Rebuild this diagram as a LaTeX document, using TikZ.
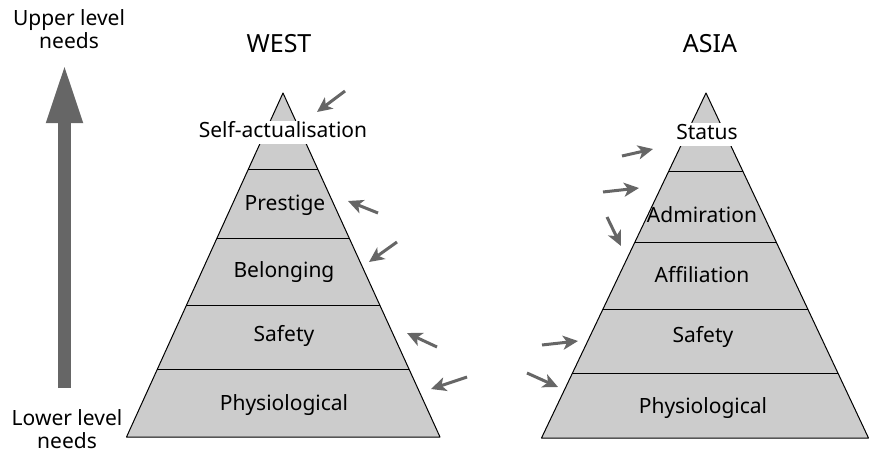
\documentclass[tikz,border=0pt]{standalone}
\usepackage{fontspec}
\setmainfont{Noto Sans}
\usepackage{tikz}
\usetikzlibrary{calc}
\usetikzlibrary{arrows.meta}
\definecolor{layergray}{HTML}{CCCCCC}
\definecolor{arrowgray}{HTML}{666666}
\newcommand{\pusharrow}[4]{\draw[arrowgray, line width=3pt, -{Stealth[length=15pt,width=14pt,inset=4pt]}] ( #1 , #2 ) -- ( #3 , #4 );}
\newcommand{\tierline}[2]{\draw[line width=1pt] ($(#1top)!#2!(#1left)$) -- ($(#1top)!#2!(#1right)$);}

\begin{document}
\begin{tikzpicture}[x=1pt, y=-1pt,
    needlabel/.style={font=\fontsize{21}{25}\selectfont, text height=15pt, text depth=4pt, inner sep=2pt},
    titlelabel/.style={font=\fontsize{25}{29}\selectfont},
    sidelabel/.style={font=\fontsize{21}{23}\selectfont, align=center, inner sep=0pt}]
    \useasboundingbox (0,0) rectangle (870,453);
    % big arrow
    \coordinate (lowend) at (64.5,388);
    \coordinate (highend) at (64.5,63);
    \draw[arrowgray, line width=13pt, -{Triangle[length=60pt,width=33pt]}] (lowend) -- (highend);
    \node[sidelabel] (upper) at (69,29) {Upper level\\needs};
    \node[sidelabel] (lower) at (67,429) {Lower level\\needs};
    % west
    \coordinate (wtop) at (283,93);
    \coordinate (wleft) at (126.5,437);
    \coordinate (wright) at (440,437);
    \filldraw[fill=layergray, line width=1pt, line join=round] (wtop) -- (wleft) -- (wright) -- cycle;
    \tierline{w}{0.221}
    \tierline{w}{0.424}
    \tierline{w}{0.619}
    \tierline{w}{0.805}
    \node[titlelabel] (west) at (279,44) {WEST};
    \node[needlabel, fill=white] (wself) at (283,132) {Self-actualisation};
    \node[needlabel] (wprestige) at (285,205) {Prestige};
    \node[needlabel] (wbelong) at (284,272) {Belonging};
    \node[needlabel] (wsafety) at (284,336) {Safety};
    \node[needlabel] (wphys) at (284,405) {Physiological};
    % asia
    \coordinate (atop) at (706,93);
    \coordinate (aleft) at (541.5,438);
    \coordinate (aright) at (868.5,438);
    \filldraw[fill=layergray, line width=1pt, line join=round] (atop) -- (aleft) -- (aright) -- cycle;
    \tierline{a}{0.227}
    \tierline{a}{0.433}
    \tierline{a}{0.628}
    \tierline{a}{0.814}
    \node[titlelabel] (asia) at (710,44) {ASIA};
    \node[needlabel, fill=white] (astatus) at (707,134) {Status};
    \node[needlabel] (aadmire) at (702,217) {Admiration};
    \node[needlabel] (aaffil) at (702,277) {Affiliation};
    \node[needlabel] (asafety) at (703,337) {Safety};
    \node[needlabel] (aphys) at (703,408) {Physiological};
    % west arrows
    \pusharrow{345}{91}{317}{112}
    \pusharrow{378}{213}{348}{201}
    \pusharrow{397}{242}{369}{262}
    \pusharrow{437}{347}{407}{333}
    \pusharrow{467}{377}{431}{389}
    % asia arrows
    \pusharrow{622}{156}{653}{149}
    \pusharrow{603}{192}{639}{188}
    \pusharrow{607}{217}{621}{246}
    \pusharrow{542}{345}{578}{341}
    \pusharrow{527}{373}{558}{387}
\end{tikzpicture}
\end{document}
